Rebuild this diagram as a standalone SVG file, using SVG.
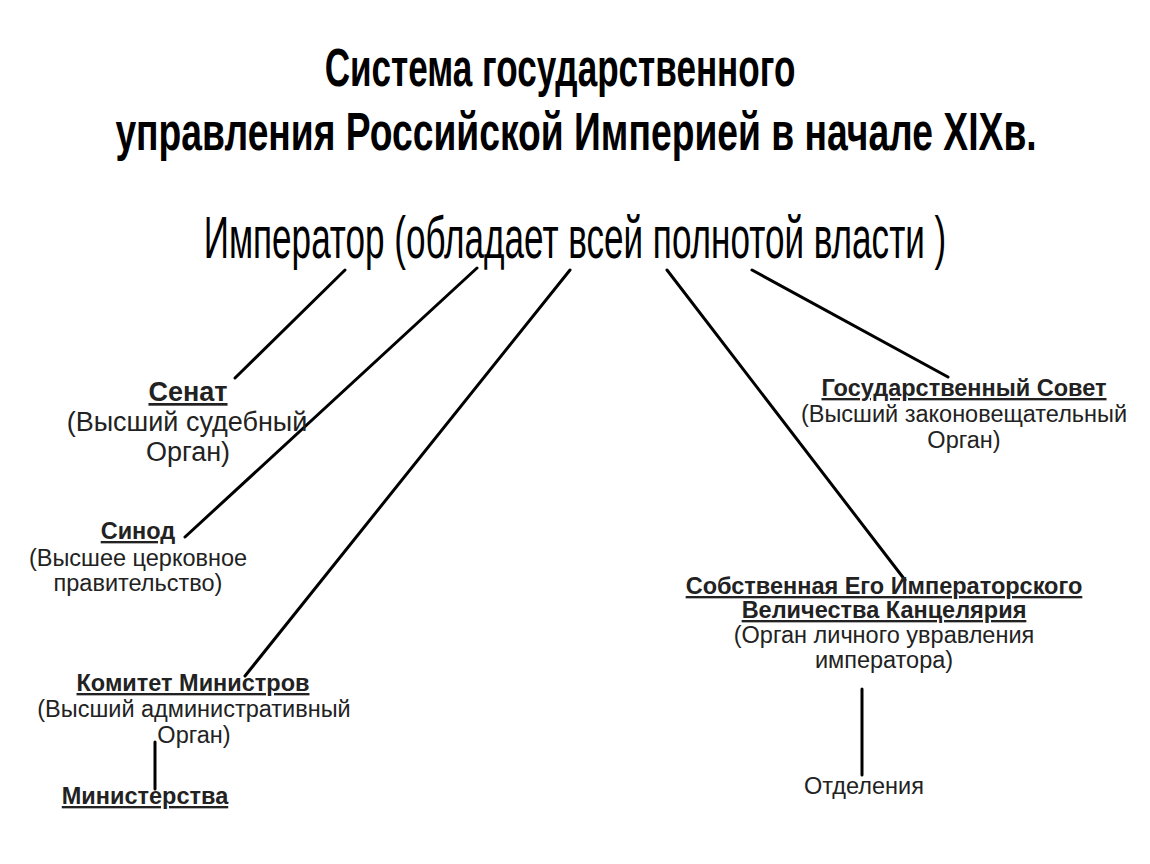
<svg xmlns="http://www.w3.org/2000/svg" width="1150" height="864" viewBox="0 0 1150 864">
<style>
.title{font-family:"Liberation Sans",Arial,sans-serif;font-weight:bold;font-size:54px;fill:#000;text-anchor:middle}
.emp{font-family:"Liberation Sans",Arial,sans-serif;font-size:60px;fill:#000;text-anchor:middle}
.h{font-family:"Liberation Sans",Arial,sans-serif;font-weight:bold;font-size:23.5px;fill:#222;text-anchor:middle;text-decoration:underline}
.t{font-family:"Liberation Sans",Arial,sans-serif;font-size:23.5px;fill:#222;text-anchor:middle}
.big{font-size:27px}
.c{stroke:#000;stroke-width:3;fill:none;stroke-linecap:round}
</style>
<rect width="1150" height="864" fill="#fff"/>
<g id="title">
<text class="title" transform="translate(560,86) scale(0.65,1)" x="0" y="0">Система государственного</text>
<text class="title" transform="translate(576,150) scale(0.69,1)" x="0" y="0">управления Российской Империей в начале XIXв.</text>
</g>
<g id="connectors">
<line class="c" x1="345" y1="270" x2="235" y2="378"/>
<line class="c" x1="477" y1="268" x2="185" y2="537"/>
<line class="c" x1="570" y1="270" x2="245" y2="676"/>
<line class="c" x1="667" y1="270" x2="905" y2="580"/>
<line class="c" x1="752" y1="270" x2="948" y2="377"/>
<line class="c" x1="155" y1="742" x2="155" y2="789"/>
<line class="c" x1="862" y1="689" x2="862" y2="775"/>
</g>
<g id="emperor">
<text class="emp" transform="translate(575,258) scale(0.585,1)" x="0" y="0">Император (обладает всей полнотой власти )</text>
</g>
<g id="senat">
<text class="h big" x="188" y="401">Сенат</text>
<text class="t big" x="187" y="431">(Высший судебный</text>
<text class="t big" x="188" y="461">Орган)</text>
</g>
<g id="sinod">
<text class="h" x="138" y="539">Синод</text>
<text class="t" x="138" y="566">(Высшее церковное</text>
<text class="t" x="138" y="591">правительство)</text>
</g>
<g id="komitet">
<text class="h" x="193" y="691">Комитет Министров</text>
<text class="t" x="194" y="717">(Высший административный</text>
<text class="t" x="194" y="743">Орган)</text>
</g>
<g id="ministerstva">
<text class="h" x="145" y="804">Министерства</text>
</g>
<g id="gossovet">
<text class="h" x="964" y="396">Государственный Совет</text>
<text class="t" x="964" y="422">(Высший законовещательный</text>
<text class="t" x="964" y="448">Орган)</text>
</g>
<g id="kancelyariya">
<text class="h" x="884" y="594">Собственная Его Императорского</text>
<text class="h" x="884" y="618">Величества Канцелярия</text>
<text class="t" x="884" y="643">(Орган личного увравления</text>
<text class="t" x="884" y="668">императора)</text>
</g>
<g id="otdeleniya">
<text class="t" x="864" y="794">Отделения</text>
</g>
</svg>
